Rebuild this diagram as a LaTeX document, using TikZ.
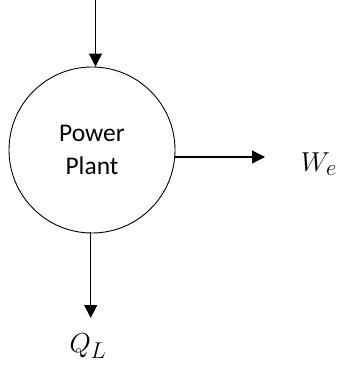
\documentclass[tikz,border=0pt]{standalone}
\usepackage{fontspec}
\setmainfont{Carlito}
\usetikzlibrary{arrows.meta,calc}
\begin{document}
\begin{tikzpicture}[x=1pt,y=-1pt,
  flow/.style={line width=1.2pt,-{Triangle[length=13pt,width=13pt]}},
  plant/.style={circle,draw,line width=0.9pt,minimum size=166pt,inner sep=0pt,align=center,
    font=\fontsize{25.5}{33}\selectfont},
  lbl/.style={inner sep=0pt,scale=1.1,font=\fontsize{24.88}{30}\selectfont}]
\useasboundingbox (0,0) rectangle (340,371);
\node[plant] (pp) at (92,150) {Power\\Plant};
\coordinate (tin) at (95.5,0);
\draw[flow] (tin) -- (tin |- pp.north);
\coordinate (e1) at ($(pp.east)+(0,7)$);
\coordinate (e2) at (265,157);
\draw[flow] (e1) -- (e2);
\node[lbl] (we) at (319,164) {$W_e$};
\coordinate (b0) at (90.7,232);
\coordinate (b1) at (90.7,318);
\draw[flow] (b0) -- (b1);
\node[lbl] (ql) at (88,346) {$Q_L$};
\end{tikzpicture}
\end{document}
